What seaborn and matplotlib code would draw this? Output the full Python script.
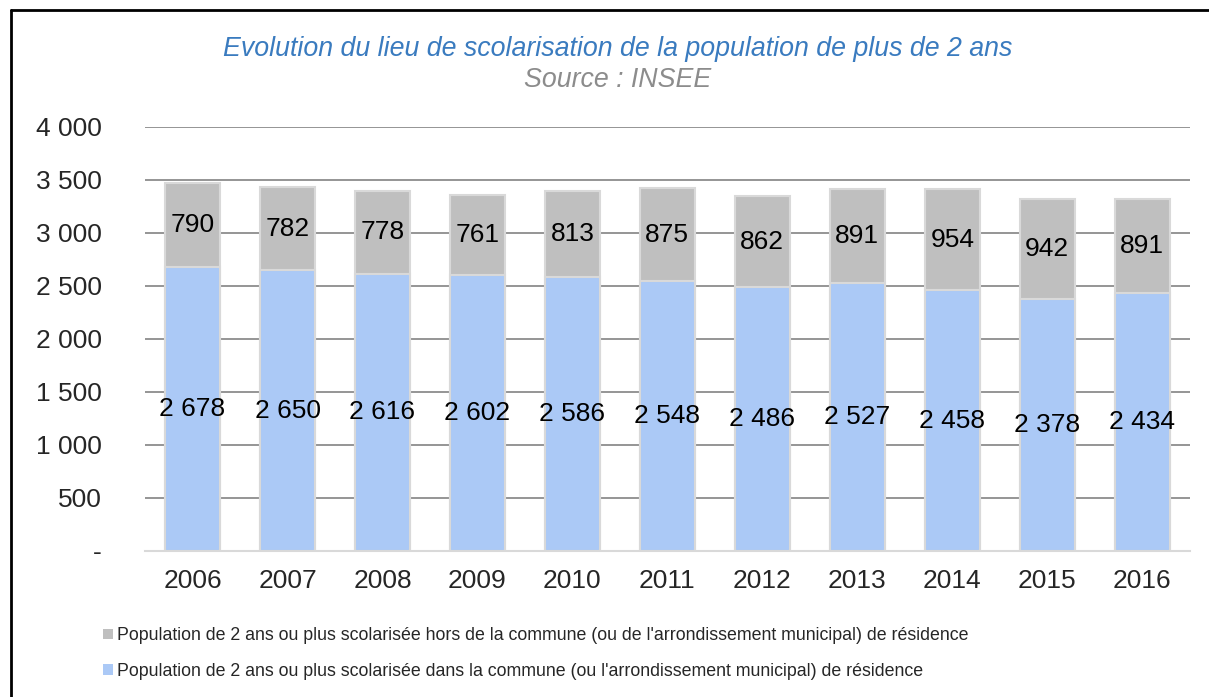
import matplotlib.pyplot as plt
import seaborn as sns
import pandas as pd
from matplotlib.lines import Line2D
from matplotlib.patches import Patch

years = ["2006", "2007", "2008", "2009", "2010", "2011", "2012", "2013", "2014", "2015", "2016"]
dans_commune = [2678, 2650, 2616, 2602, 2586, 2548, 2486, 2527, 2458, 2378, 2434]
hors_commune = [790, 782, 778, 761, 813, 875, 862, 891, 954, 942, 891]

label_hors = "Population de 2 ans ou plus scolarisée hors de la commune (ou de l'arrondissement municipal) de résidence"
label_dans = "Population de 2 ans ou plus scolarisée dans la commune (ou l'arrondissement municipal) de résidence"

BLUE = "#abc9f6"
GREY = "#bfbfbf"
EDGE = "#d9d9d9"

sns.set_style("white")
plt.rcParams['font.family'] = ['Liberation Sans', 'DejaVu Sans']


def fmt(v):
    return f"{v:,}".replace(",", " ")


df = pd.DataFrame({
    "year": years,
    "dans": dans_commune,
    "hors": hors_commune,
})
df["total"] = df["dans"] + df["hors"]

fig = plt.figure(figsize=(12.09, 6.97), dpi=100)
ax = fig.add_axes([0.12, 0.2095, 0.864, 0.6083])

# stacked bars: totals first (grey), then in-commune part on top (blue)
sns.barplot(data=df, x="year", y="total", color=GREY, width=0.58, saturation=1,
            edgecolor=EDGE, linewidth=1.5, ax=ax, zorder=2)
sns.barplot(data=df, x="year", y="dans", color=BLUE, width=0.58, saturation=1,
            edgecolor=EDGE, linewidth=1.5, ax=ax, zorder=3)

for i, (d, h) in enumerate(zip(dans_commune, hors_commune)):
    ax.text(i, d / 2, fmt(d), ha="center", va="center", fontsize=19, color="black", zorder=4)
    ax.text(i, d + h / 2, str(h), ha="center", va="center", fontsize=19, color="black", zorder=4)

ax.set_ylim(0, 4000)
ax.set_xlim(-0.5, len(years) - 0.5)
ticks = list(range(0, 4001, 500))
ax.set_yticks(ticks)
ax.set_yticklabels(["-"] + [fmt(t) for t in ticks[1:]])
ax.tick_params(axis="y", labelsize=19, length=0, pad=31)
ax.tick_params(axis="x", labelsize=19, length=0, pad=13)
ax.set_xlabel("")
ax.set_ylabel("")

ax.yaxis.grid(True, color="#8c8c8c", linewidth=1.3, zorder=0)
ax.set_axisbelow(True)
for s in ["top", "right", "left"]:
    ax.spines[s].set_visible(False)
ax.spines["bottom"].set_color(EDGE)
ax.spines["bottom"].set_linewidth(1.5)
ax.spines["bottom"].set_zorder(5)

fig.text(0.511, 0.929, "Evolution du lieu de scolarisation de la population de plus de 2 ans",
         ha="center", va="center", fontsize=19.3, style="italic", color="#3a7bbf")
fig.text(0.511, 0.885, "Source : INSEE", ha="center", va="center",
         fontsize=19.3, style="italic", color="#8c8c8c")

handles = [Patch(facecolor=GREY, edgecolor="none"), Patch(facecolor=BLUE, edgecolor="none")]
fig.legend(handles, [label_hors, label_dans], loc="upper left",
           bbox_to_anchor=(0.0855, 0.100), frameon=False, fontsize=12.8,
           handlelength=0.55, handleheight=0.55, handletextpad=0.2, labelspacing=1.05,
           borderaxespad=0, borderpad=0)

# chart frame (left and top edges visible)
fig.add_artist(Line2D([0.0087, 0.0087], [0, 0.985], color="black", linewidth=2, transform=fig.transFigure))
fig.add_artist(Line2D([0.0087, 1.0], [0.985, 0.985], color="black", linewidth=2, transform=fig.transFigure))

fig.savefig("out.png", dpi=100)
